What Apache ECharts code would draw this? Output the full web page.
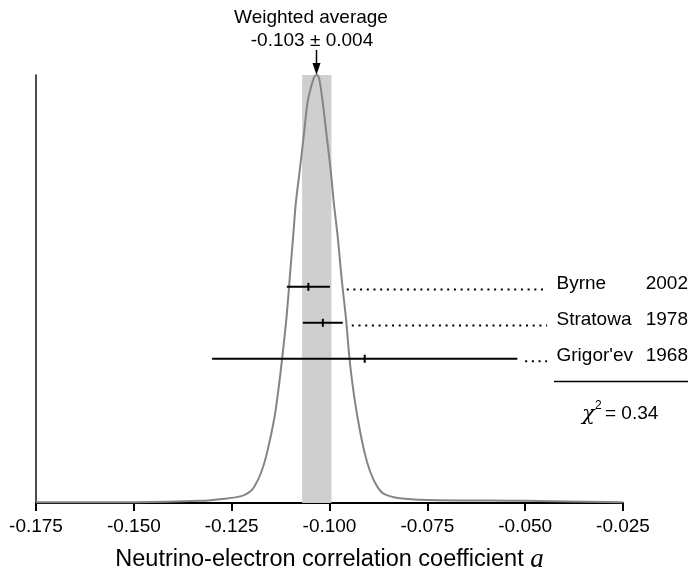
<!DOCTYPE html>
<html lang="en">
<head>
<meta charset="UTF-8">
<title>Neutrino-electron correlation coefficient</title>
<script src="https://cdn.jsdelivr.net/npm/echarts@6/dist/echarts.min.js"></script>
<style>
  html, body { margin: 0; padding: 0; background: #fff; }
  #chart { width: 691px; height: 572px; }
</style>
</head>
<body>
<div id="chart"></div>
<script>
// ideogram curve (height relative to peak)
var curveX = [-0.175, -0.150, -0.133, -0.1268, -0.1225, -0.1204, -0.1191, -0.1174, -0.1159, -0.1141,
  -0.1129, -0.1121, -0.1110, -0.1100, -0.1093, -0.1086, -0.1076, -0.1066, -0.1057, -0.1050,
  -0.1042, -0.1038, -0.1033, -0.1028, -0.1024, -0.1017, -0.1007, -0.0997, -0.0989, -0.0979,
  -0.0971, -0.0967, -0.0958, -0.0949, -0.0941, -0.0928, -0.0911, -0.0896, -0.0879, -0.0862,
  -0.0820, -0.0750, -0.0500, -0.0250];
var curveY = [0.002, 0.002, 0.005, 0.010, 0.016, 0.026, 0.040, 0.073, 0.120, 0.198,
  0.276, 0.338, 0.432, 0.544, 0.622, 0.701, 0.778, 0.856, 0.930, 0.962,
  0.988, 0.997, 1.000, 0.996, 0.980, 0.934, 0.856, 0.778, 0.701, 0.622,
  0.544, 0.507, 0.432, 0.338, 0.276, 0.198, 0.120, 0.073, 0.040, 0.022,
  0.011, 0.007, 0.005, 0.002];

// measurements
var names = ['Byrne', 'Stratowa', "Grigor'ev"];
var years = ['2002', '1978', '1968'];
var values = [-0.1054, -0.1017, -0.091];
var errors = [0.0055, 0.0051, 0.039];
var rowY = [0.505, 0.421, 0.337];
var leaderStart = [-0.0956, -0.0943, -0.0500];
var leaderEnd = -0.0444;

// weighted average band
var avg = -0.103;
var bandLo = -0.107, bandHi = -0.0995;
var xTicks = { min: -0.175, max: -0.025, step: 0.025 };

var chart = echarts.init(document.getElementById('chart'));

var curve = curveX.map(function (x, i) { return [x, curveY[i]]; });
var bars = values.map(function (v, i) { return [v, v - errors[i], v + errors[i], rowY[i]]; });

var leaderSeries = names.map(function (n, i) {
  return {
    type: 'line',
    data: [[leaderStart[i], rowY[i] - 0.006], [leaderEnd, rowY[i] - 0.006]],
    symbol: 'none',
    silent: true,
    z: 4,
    lineStyle: { color: '#000', width: 2, type: [2, 4.7], cap: 'butt' }
  };
});

var txt = { fontFamily: 'Liberation Sans, Arial, sans-serif', fontSize: 19, fill: '#000' };
function label(x, y, s, align) {
  return { type: 'text', x: x, y: y, style: Object.assign({ text: s, align: align || 'left', verticalAlign: 'middle' }, txt) };
}

var graphics = [
  label(311, 18, 'Weighted average', 'center'),
  label(312, 41, '-0.103 \u00b1 0.004', 'center'),
  { type: 'line', shape: { x1: 316.5, y1: 50, x2: 316.5, y2: 66 }, style: { stroke: '#000', lineWidth: 1.5 } },
  { type: 'polygon', shape: { points: [[312.5, 63], [320.5, 63], [316.5, 75]] }, style: { fill: '#000' } },
  { type: 'line', shape: { x1: 554, y1: 381.5, x2: 688, y2: 381.5 }, style: { stroke: '#000', lineWidth: 1.5 } },
  { type: 'text', x: 582, y: 415, style: { text: '\u03c7', fontFamily: 'DejaVu Serif, serif', fontStyle: 'italic', fontSize: 21, fill: '#000', verticalAlign: 'middle' } },
  { type: 'text', x: 595, y: 406, style: { text: '2', fontFamily: 'Liberation Sans, Arial, sans-serif', fontSize: 12, fill: '#000', verticalAlign: 'middle' } },
  label(605, 414, '= 0.34')
];
var labelY = [284, 320, 356];
names.forEach(function (n, i) {
  graphics.push(label(556.5, labelY[i], n));
  graphics.push(label(688, labelY[i], years[i], 'right'));
});

chart.setOption({
  animation: false,
  grid: { left: 36, right: 68, top: 75, bottom: 69, outerBoundsMode: 'none' },
  xAxis: {
    type: 'value',
    min: xTicks.min,
    max: xTicks.max,
    interval: xTicks.step,
    splitLine: { show: false },
    axisLine: { onZero: false, lineStyle: { color: '#000', width: 2 } },
    axisTick: { length: 8, lineStyle: { color: '#000', width: 2 } },
    axisLabel: {
      color: '#000', fontSize: 19, margin: 14,
      fontFamily: 'Liberation Sans, Arial, sans-serif',
      formatter: function (v) { return v.toFixed(3); }
    },
    name: '{t|Neutrino-electron correlation coefficient }{a|a}',
    nameLocation: 'middle',
    nameGap: 43,
    nameTextStyle: {
      rich: {
        t: { fontSize: 23.5, color: '#000', fontFamily: 'Liberation Sans, Arial, sans-serif' },
        a: { fontSize: 27, color: '#000', fontFamily: 'Liberation Serif, Times New Roman, serif', fontStyle: 'italic' }
      }
    }
  },
  yAxis: {
    type: 'value',
    min: 0,
    max: 1,
    splitLine: { show: false },
    axisTick: { show: false },
    axisLabel: { show: false },
    axisLine: { show: true, lineStyle: { color: '#111', width: 1.5 } }
  },
  series: [
    {
      type: 'line',
      data: [],
      silent: true,
      z: 1,
      markArea: {
        silent: true,
        itemStyle: { color: '#cfcfcf' },
        data: [[{ xAxis: bandLo, yAxis: 0 }, { xAxis: bandHi, yAxis: 1 }]]
      }
    },
    {
      type: 'line',
      data: curve,
      symbol: 'none',
      smooth: 0.3,
      silent: true,
      z: 3,
      lineStyle: { color: '#858585', width: 2 }
    },
    {
      type: 'custom',
      data: bars,
      z: 5,
      silent: true,
      renderItem: function (params, api) {
        var c = api.coord([api.value(0), api.value(3)]);
        var lo = api.coord([api.value(1), api.value(3)]);
        var hi = api.coord([api.value(2), api.value(3)]);
        return {
          type: 'group',
          children: [
            { type: 'line', shape: { x1: lo[0], y1: lo[1], x2: hi[0], y2: hi[1] }, style: { stroke: '#000', lineWidth: 2 } },
            { type: 'line', shape: { x1: c[0], y1: c[1] - 4, x2: c[0], y2: c[1] + 4 }, style: { stroke: '#000', lineWidth: 2 } }
          ]
        };
      }
    }
  ].concat(leaderSeries),
  graphic: graphics
});
</script>
</body>
</html>
